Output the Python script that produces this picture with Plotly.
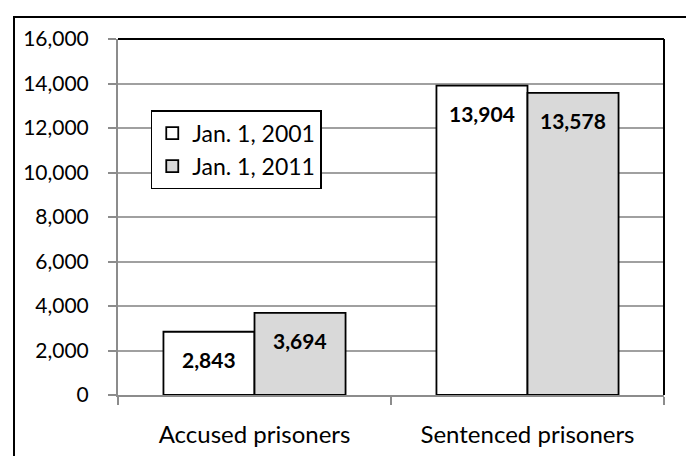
import plotly.graph_objects as go

# Dane
categories = ["Accused prisoners", "Sentenced prisoners"]
series_names = ["Jan. 1, 2001", "Jan. 1, 2011"]
values_2001 = [2843, 13904]
values_2011 = [3694, 13578]
y_ticks = [0, 2000, 4000, 6000, 8000, 10000, 12000, 14000, 16000]

colors = ["#ffffff", "#d9d9d9"]
font_family = "Lato, 'DejaVu Sans', sans-serif"

fig = go.Figure()
for name, vals, col in zip(series_names, [values_2001, values_2011], colors):
    fig.add_trace(go.Bar(
        x=categories, y=vals, name=name,
        marker=dict(color=col, line=dict(color="black", width=1.8)),
    ))

# etykiety danych (pogrubione, wewnątrz słupka)
for i, vals in enumerate([values_2001, values_2011]):
    for cat, v in zip(categories, vals):
        fig.add_annotation(
            x=cat, y=v, text=f"<b>{v:,}</b>", showarrow=False,
            xshift=-45.5 if i == 0 else 45.5, yshift=-28, yanchor="middle",
            font=dict(size=21, color="black", family=font_family),
        )

# górna i prawa krawędź obszaru wykresu
fig.add_shape(type="line", xref="x domain", yref="y domain", x0=0, x1=1, y0=1, y1=1,
              line=dict(color="black", width=2))
fig.add_shape(type="line", xref="x domain", yref="y domain", x0=1, x1=1, y0=0, y1=1,
              line=dict(color="black", width=2))
# ramka całego wykresu (w pikselach przeliczonych na paper)
fig.add_shape(type="rect", xref="paper", yref="paper",
              x0=(6 - 110) / 546, x1=(692.5 - 110) / 546,
              y0=(387 - 454.5) / 356, y1=(387 - 9) / 356,
              line=dict(color="black", width=2), layer="below")

fig.update_layout(
    width=694, height=456,
    margin=dict(l=110, r=38, t=31, b=69),
    barmode="group", bargap=0.333, bargroupgap=0,
    plot_bgcolor="white", paper_bgcolor="white",
    font=dict(family=font_family, color="black"),
    showlegend=True,
    legend=dict(
        x=0.06, y=0.80, xanchor="left", yanchor="top",
        bgcolor="white", bordercolor="black", borderwidth=1.5,
        font=dict(size=23), itemwidth=30,
    ),
)
fig.update_xaxes(
    showline=True, linecolor="#8c8c8c", linewidth=2,
    ticks="outside", tickson="boundaries", ticklen=8, tickcolor="#8c8c8c", tickwidth=2,
    tickfont=dict(size=24), ticklabelstandoff=17, showgrid=False,
)
fig.update_yaxes(
    range=[0, 16000], tickvals=y_ticks, tickformat=",",
    showline=True, linecolor="#8c8c8c", linewidth=2,
    ticks="outside", ticklen=8, tickcolor="#8c8c8c", tickwidth=2,
    tickfont=dict(size=21), ticklabelstandoff=15,
    showgrid=True, gridcolor="#a0a0a0", gridwidth=1.5, zeroline=False,
)

fig.write_html("out.html")
